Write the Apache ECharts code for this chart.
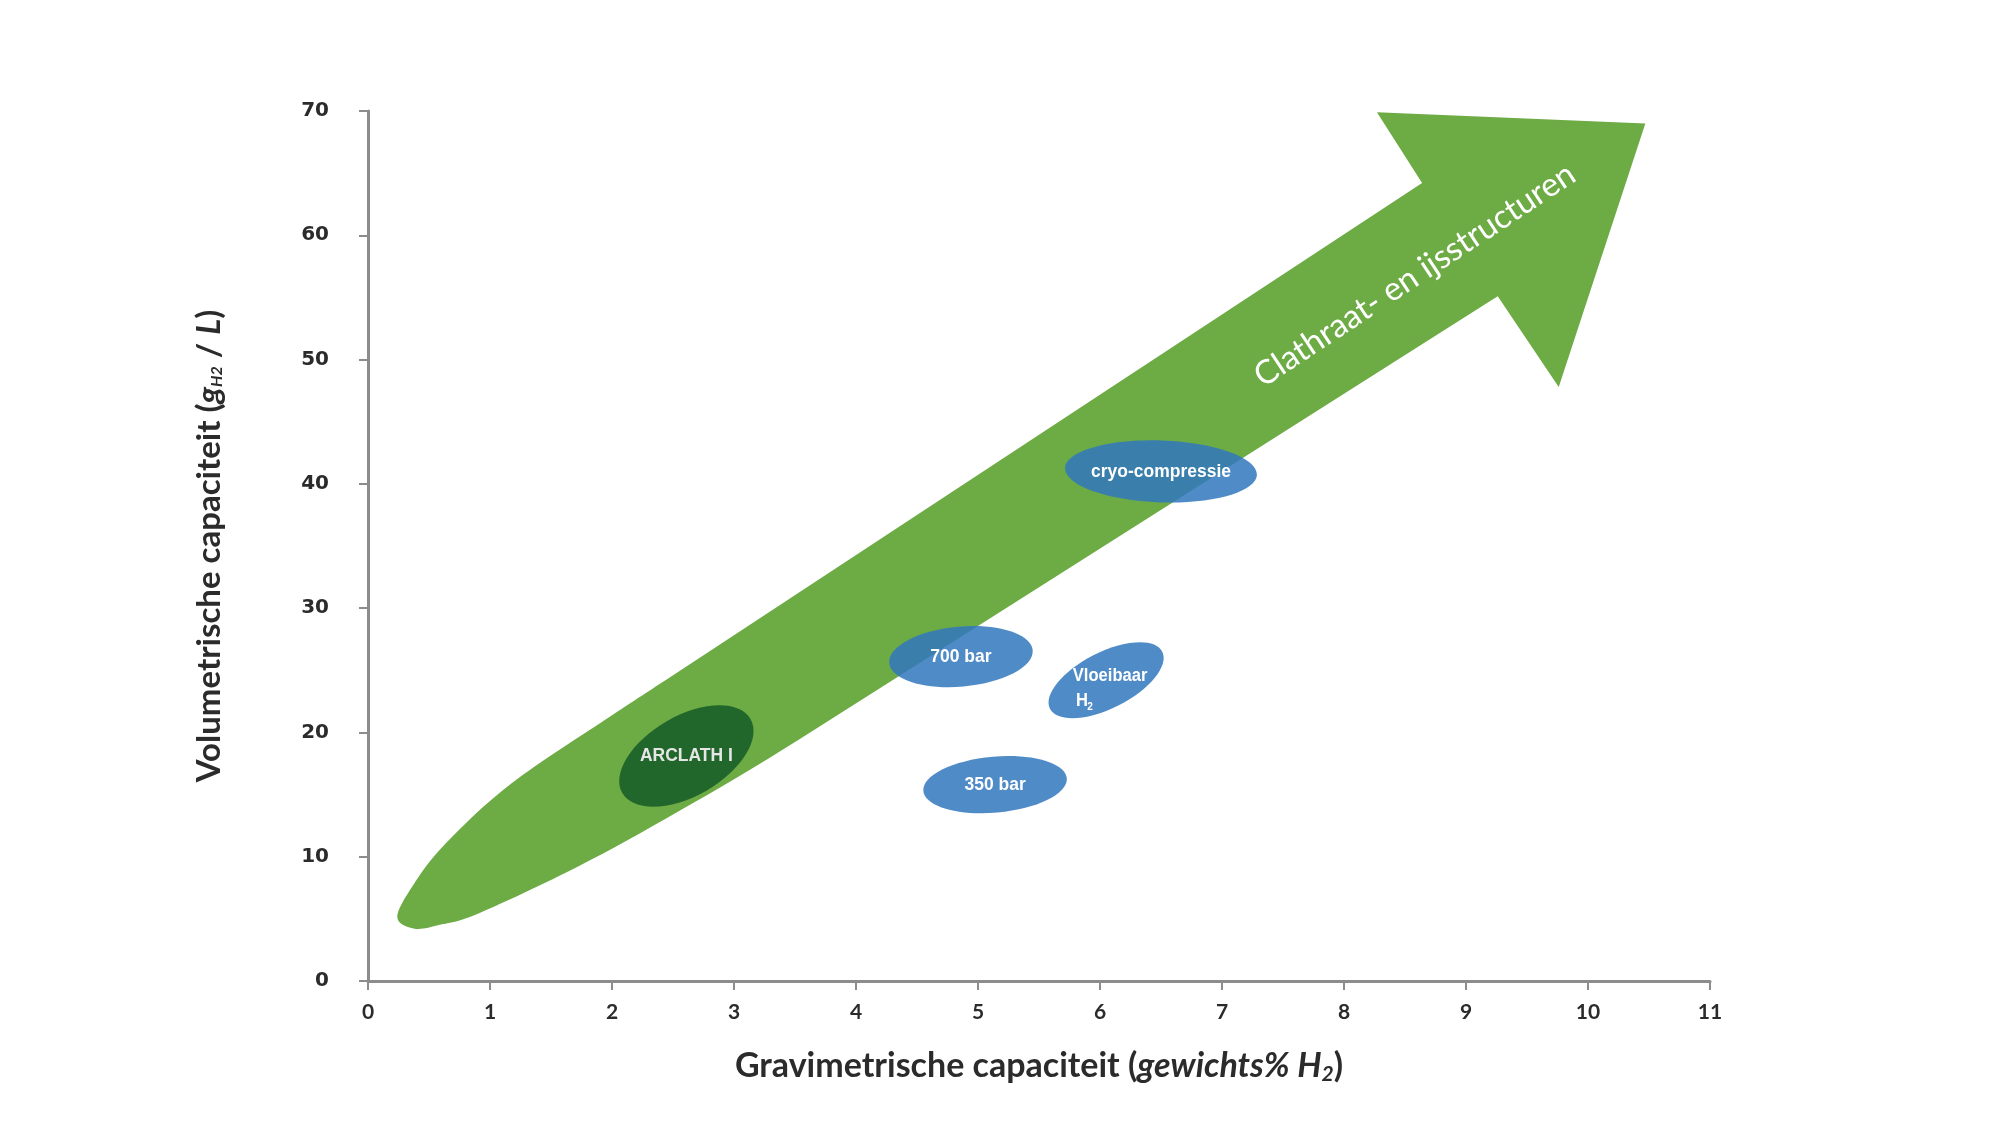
<!DOCTYPE html>
<html>
<head>
<meta charset="utf-8">
<script src="https://cdn.jsdelivr.net/npm/echarts@6/dist/echarts.min.js"></script>
<style>
html,body{margin:0;padding:0;background:#ffffff;}
#chart{width:2000px;height:1124px;}
</style>
</head>
<body>
<div id="chart"></div>
<script>
// ---- Data ----
const xTicks = [0, 1, 2, 3, 4, 5, 6, 7, 8, 9, 10, 11];
const yTicks = [0, 10, 20, 30, 40, 50, 60, 70];

// Green arrow outline in data units (x: gewichts% H2, y: g/L)
// head: inner top, top barb, tip, bottom barb, inner bottom
const arrowHeadX = [8.64, 8.27, 10.47, 9.76, 9.26];
const arrowHeadY = [64.2, 69.9, 69.0, 47.8, 55.1];
// rounded tail, from lower shaft edge round the tip to upper shaft edge
const arrowTailX = [3.53, 2.55, 1.73, 0.91, 0.59, 0.38, 0.24, 0.37, 0.64, 1.18, 2.00, 2.51];
const arrowTailY = [19.42, 13.67, 9.25, 5.45, 4.52, 4.21, 5.14, 7.71, 11.10, 15.93, 21.38, 24.67];
const arrowLabel = 'Clathraat- en ijsstructuren';
const arrowLabelPos = [8.58, 56.8];

// Technology ellipses: names and centres
const techNames = ['ARCLATH I', '700 bar', 'Vloeibaar', '350 bar', 'cryo-compressie'];
const techX = [2.61, 4.86, 6.05, 5.14, 6.50];
const techY = [18.1, 26.1, 24.2, 15.8, 41.0];

// ---- Styles (kept separate from data) ----
const GREEN = '#6dab45';
const DARKGREEN = '#21662a';
const BLUE = 'rgba(50,120,190,0.86)';
const AXIS = '#8c8c8c';
const TEXT = '#2b2b2b';
const FONT = 'Lato, "Liberation Sans", sans-serif';
const LFONT = '"Liberation Sans", Arial, sans-serif';
const techShape = [
  {rx: 74, ry: 40, rot: 30, fill: DARKGREEN, color: '#e6e6e6'},
  {rx: 72, ry: 30, rot: 5, fill: BLUE, color: '#ffffff'},
  {rx: 63, ry: 28, rot: 27, fill: BLUE, color: '#ffffff'},
  {rx: 72, ry: 28, rot: 5, fill: BLUE, color: '#ffffff'},
  {rx: 96, ry: 31, rot: -2, fill: BLUE, color: '#ffffff'}
];

const chart = echarts.init(document.getElementById('chart'));

function unit(v) { const l = Math.hypot(v[0], v[1]) || 1; return [v[0] / l, v[1] / l]; }

// smooth cubic path through pixel points with given end tangents
function smoothSegs(p, dirStart, dirEnd) {
  const n = p.length;
  const m = [];
  for (let i = 0; i < n; i++) {
    if (i === 0) {
      const u = unit(dirStart), L = Math.hypot(p[1][0] - p[0][0], p[1][1] - p[0][1]);
      m.push([u[0] * L, u[1] * L]);
    } else if (i === n - 1) {
      const u = unit(dirEnd), L = Math.hypot(p[n - 1][0] - p[n - 2][0], p[n - 1][1] - p[n - 2][1]);
      m.push([u[0] * L, u[1] * L]);
    } else {
      m.push([(p[i + 1][0] - p[i - 1][0]) / 2, (p[i + 1][1] - p[i - 1][1]) / 2]);
    }
  }
  let d = '';
  for (let i = 0; i < n - 1; i++) {
    const c1 = [p[i][0] + m[i][0] / 3, p[i][1] + m[i][1] / 3];
    const c2 = [p[i + 1][0] - m[i + 1][0] / 3, p[i + 1][1] - m[i + 1][1] / 3];
    d += ' C' + c1[0].toFixed(2) + ' ' + c1[1].toFixed(2) + ' ' + c2[0].toFixed(2) + ' ' + c2[1].toFixed(2) + ' ' + p[i + 1][0].toFixed(2) + ' ' + p[i + 1][1].toFixed(2);
  }
  return d;
}

function arrowRender(params, api) {
  const head = arrowHeadX.map((x, i) => api.coord([x, arrowHeadY[i]]));
  const tail = arrowTailX.map((x, i) => api.coord([x, arrowTailY[i]]));
  const innerTop = head[0], innerBottom = head[head.length - 1];
  const t0 = tail[0], tN = tail[tail.length - 1];
  let d = 'M' + innerTop[0] + ' ' + innerTop[1];
  for (let i = 1; i < head.length; i++) d += ' L' + head[i][0] + ' ' + head[i][1];
  d += ' L' + t0[0] + ' ' + t0[1];
  d += smoothSegs(tail, [t0[0] - innerBottom[0], t0[1] - innerBottom[1]], [innerTop[0] - tN[0], innerTop[1] - tN[1]]);
  d += ' Z';
  const lp = api.coord(arrowLabelPos);
  return {
    type: 'group',
    children: [
      {type: 'path', shape: {pathData: d}, style: {fill: GREEN}},
      {type: 'text', x: lp[0], y: lp[1], rotation: 33.5 * Math.PI / 180,
        style: {text: arrowLabel, fill: '#ffffff', font: '33px ' + FONT,
          align: 'center', verticalAlign: 'middle'}}
    ]
  };
}

function labelEl(text, x, y, color, size) {
  return {type: 'text', x: x, y: y, scaleX: 0.92,
    style: {text: text, fill: color, font: 'bold ' + size + 'px ' + LFONT,
      align: 'center', verticalAlign: 'middle'}};
}

function techRender(params, api) {
  const i = params.dataIndex;
  const c = api.coord([api.value(0), api.value(1)]);
  const s = techShape[i];
  const children = [
    {type: 'ellipse', shape: {cx: 0, cy: 0, rx: s.rx, ry: s.ry},
      rotation: s.rot * Math.PI / 180, style: {fill: s.fill}}
  ];
  if (techNames[i] === 'Vloeibaar') {
    children.push(labelEl('Vloeibaar', 4, -4, s.color, 18));
    children.push(labelEl('H', -24, 21, s.color, 18));
    children.push(labelEl('2', -16, 27, s.color, 11));
  } else {
    children.push(labelEl(techNames[i], 0, 0, s.color, 19));
  }
  return {type: 'group', x: c[0], y: c[1], children: children};
}

chart.setOption({
  backgroundColor: '#ffffff',
  animation: false,
  grid: {left: 368, right: 290, top: 111, bottom: 143, containLabel: false},
  xAxis: {
    type: 'value', min: xTicks[0], max: xTicks[xTicks.length - 1], interval: 1,
    axisLine: {show: true, lineStyle: {color: AXIS, width: 3}},
    axisTick: {show: true, length: 9, lineStyle: {color: AXIS, width: 2}},
    splitLine: {show: false},
    axisLabel: {margin: 21, color: TEXT, fontWeight: 'bold', fontSize: 21, fontFamily: FONT},
    name: '{b|Gravimetrische capaciteit (}{i|gewichts% H}{s|2}{b|)}',
    nameLocation: 'middle', nameGap: 64,
    nameTextStyle: {
      rich: {
        b: {fontWeight: 'bold', fontSize: 34, color: TEXT, fontFamily: FONT, lineHeight: 42},
        i: {fontWeight: 'bold', fontStyle: 'italic', fontSize: 34, color: TEXT, fontFamily: FONT, lineHeight: 42},
        s: {fontWeight: 'bold', fontStyle: 'italic', fontSize: 21, color: TEXT, fontFamily: FONT, lineHeight: 42, padding: [17, 0, 0, 0]}
      }
    }
  },
  yAxis: {
    type: 'value', min: yTicks[0], max: yTicks[yTicks.length - 1], interval: 10,
    axisLine: {show: true, lineStyle: {color: AXIS, width: 3}},
    axisTick: {show: true, length: 9, lineStyle: {color: AXIS, width: 2}},
    splitLine: {show: false},
    axisLabel: {margin: 39, color: TEXT, fontWeight: 'bold', fontSize: 20, fontFamily: '"DejaVu Sans", sans-serif'},
    name: '{b|Volumetrische capaciteit (}{i|g}{s|H2}{b| / }{i|L}{b|)}',
    nameLocation: 'middle', nameGap: 139,
    nameTextStyle: {
      rich: {
        b: {fontWeight: 'bold', fontSize: 33, color: TEXT, fontFamily: FONT, lineHeight: 40},
        i: {fontWeight: 'bold', fontStyle: 'italic', fontSize: 33, color: TEXT, fontFamily: FONT, lineHeight: 40},
        s: {fontWeight: 'bold', fontStyle: 'italic', fontSize: 16, color: TEXT, fontFamily: FONT, lineHeight: 40, padding: [16, 0, 0, 0]}
      }
    }
  },
  series: [
    {type: 'custom', name: 'arrow', renderItem: arrowRender, data: [[0, 0]], silent: true, z: 1},
    {type: 'custom', name: 'tech', renderItem: techRender,
      data: techX.map((x, i) => [x, techY[i]]), silent: true, z: 2}
  ]
});
</script>
</body>
</html>
